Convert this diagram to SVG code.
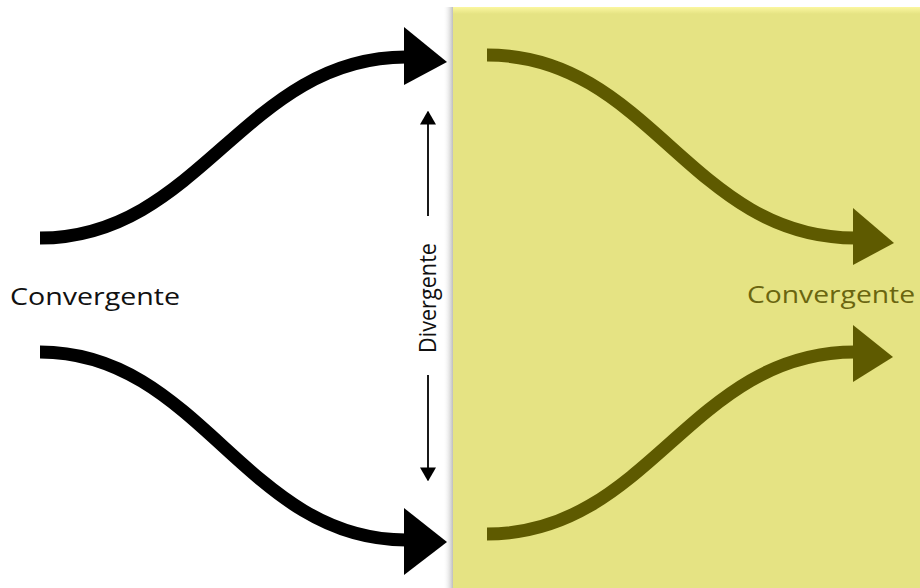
<svg xmlns="http://www.w3.org/2000/svg" width="920" height="588" viewBox="0 0 920 588">
<style>
.blk{fill:none;stroke:#000;stroke-width:13}
.olv{fill:none;stroke:#5e5a00;stroke-width:13}
.lbl{font-family:"Open Sans","Noto Sans",sans-serif;font-size:23px;font-weight:500}
</style>
<defs>
<linearGradient id="sh" x1="0" y1="0" x2="1" y2="0">
<stop offset="0" stop-color="#fff" stop-opacity="0"/>
<stop offset="1" stop-color="#bdbdbd"/>
</linearGradient>
<linearGradient id="tp" x1="0" y1="0" x2="0" y2="1">
<stop offset="0" stop-color="#fbf7a0"/>
<stop offset="1" stop-color="#e5e383"/>
</linearGradient>
<marker id="ah" viewBox="0 0 10 10" refX="9" refY="5" markerWidth="14" markerHeight="16" markerUnits="userSpaceOnUse" orient="auto-start-reverse" preserveAspectRatio="none">
<path d="M0,0 L10,5 L0,10 z" fill="#000"/>
</marker>
</defs>
<g id="background">
<rect x="443" y="7" width="10" height="581" fill="url(#sh)"/>
<rect x="453" y="7" width="467" height="581" fill="#e5e383"/>
<rect x="453" y="7" width="467" height="7" fill="url(#tp)"/>
</g>
<g id="connectors">
<path class="blk" d="M40,238 C200,238 245,57 406,57"/>
<path d="M404,27 L447,62 L404,85 z" fill="#000"/>
<path class="blk" d="M40,352 C200,352 245,540 406,540"/>
<path d="M404,508 L447,542 L404,575 z" fill="#000"/>
<path class="olv" d="M487,55 C650,55 690,238 855,238"/>
<path d="M853,208 L894,243 L853,265 z" fill="#5e5a00"/>
<path class="olv" d="M487,534 C650,534 690,352 855,352"/>
<path d="M853,325 L893,357 L853,382 z" fill="#5e5a00"/>
<line x1="428" y1="216" x2="428" y2="112" stroke="#000" stroke-width="1.8" marker-end="url(#ah)"/>
<line x1="428" y1="375" x2="428" y2="480" stroke="#000" stroke-width="1.8" marker-end="url(#ah)"/>
</g>
<g id="left-label">
<text class="lbl" x="10" y="305" fill="#111" textLength="170" lengthAdjust="spacingAndGlyphs">Convergente</text>
</g>
<g id="right-label">
<text class="lbl" x="747" y="303" fill="#6a6510" textLength="168" lengthAdjust="spacingAndGlyphs">Convergente</text>
</g>
<g id="divergente-label">
<text class="lbl" transform="translate(436,353) rotate(-90)" x="0" y="0" fill="#111" font-size="28" font-weight="400" textLength="110" lengthAdjust="spacingAndGlyphs">Divergente</text>
</g>
</svg>
